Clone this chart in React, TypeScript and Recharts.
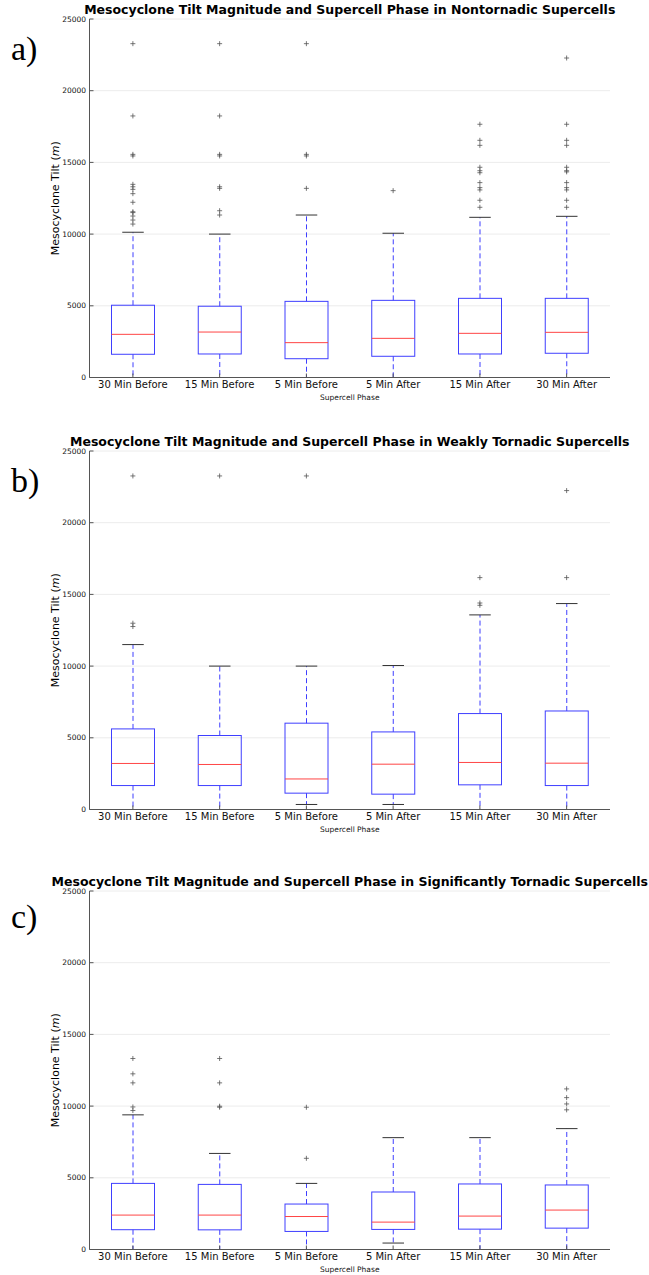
import React from 'react';
import { ComposedChart, Bar, Line, XAxis, YAxis, CartesianGrid } from 'recharts';

const phases = ['30 Min Before', '15 Min Before', '5 Min Before', '5 Min After', '15 Min After', '30 Min After'];
const yTicks = [0, 5000, 10000, 15000, 20000, 25000];

// a) Nontornadic
const lowA = [0, 0, 0, 0, 0, 0];
const q1A = [1620, 1640, 1310, 1480, 1640, 1690];
const medA = [3010, 3170, 2430, 2730, 3080, 3150];
const q3A = [5040, 4970, 5310, 5380, 5520, 5520];
const highA = [10130, 10000, 11330, 10060, 11170, 11240];
const outliersA = [
  [23280, 18240, 15560, 15450, 13470, 13300, 13120, 12820, 12220, 11560, 11500, 11260, 10980, 10700],
  [23280, 18240, 15560, 15450, 13300, 13190, 11630, 11330],
  [23280, 15560, 15450, 13190],
  [13030],
  [17660, 16540, 16190, 14660, 14420, 14280, 13590, 13240, 13080, 12360, 11870],
  [22280, 17660, 16540, 16190, 14660, 14420, 14340, 13590, 13240, 13080, 12360, 11870],
];

// b) Weakly tornadic
const lowB = [0, 0, 350, 350, 0, 0];
const q1B = [1670, 1670, 1140, 1070, 1720, 1670];
const medB = [3210, 3140, 2130, 3160, 3280, 3230];
const q3B = [5620, 5160, 6020, 5410, 6690, 6870];
const highB = [11500, 10000, 10000, 10040, 13570, 14360];
const outliersB = [
  [23260, 12990, 12760],
  [23260],
  [23260],
  [],
  [16170, 14400, 14240],
  [22240, 16170],
];

// c) Significantly tornadic
const lowC = [0, 0, 0, 450, 0, 0];
const q1C = [1380, 1370, 1260, 1400, 1420, 1490];
const medC = [2400, 2400, 2300, 1910, 2330, 2750];
const q3C = [4610, 4540, 3170, 4010, 4570, 4500];
const highC = [9390, 6700, 4610, 7800, 7800, 8430];
const outliersC = [
  [13320, 12250, 11620, 9940, 9690],
  [13320, 11620, 9990, 9920],
  [9920, 6360],
  [],
  [],
  [11200, 10590, 10150, 9740],
];

const titles = [
  'Mesocyclone Tilt Magnitude and Supercell Phase in Nontornadic Supercells',
  'Mesocyclone Tilt Magnitude and Supercell Phase in Weakly Tornadic Supercells',
  'Mesocyclone Tilt Magnitude and Supercell Phase in Significantly Tornadic Supercells',
];
const panelLabels = ['a)', 'b)', 'c)'];

function buildRows(low: number[], q1: number[], med: number[], q3: number[], high: number[], outliers: number[][]) {
  return phases.map((phase, i) => {
    const row: any = { phase, low: low[i], q1: q1[i], med: med[i], q3: q3[i], high: high[i] };
    outliers[i].forEach((v, j) => {
      row['o' + j] = v;
    });
    return row;
  });
}

const panels = [
  { rows: buildRows(lowA, q1A, medA, q3A, highA, outliersA), nOut: Math.max(...outliersA.map((o) => o.length)) },
  { rows: buildRows(lowB, q1B, medB, q3B, highB, outliersB), nOut: Math.max(...outliersB.map((o) => o.length)) },
  { rows: buildRows(lowC, q1C, medC, q3C, highC, outliersC), nOut: Math.max(...outliersC.map((o) => o.length)) },
];

const panelTops = [0, 431.7, 871.7];
const CHART_H = 403;
const MARGIN = { top: 19, right: 39, bottom: 0.5, left: 49.5 };
const BLUE = '#3f3fff';
const RED = '#ff4545';
const AXIS = '#555';

const BoxShape = (props: any) => {
  const { x, y, width, height, payload } = props;
  if (!payload || height == null) return <g />;
  const { low, q1, med, q3, high } = payload;
  const span = high - low;
  const py = (v: number) => y + (height * (high - v)) / span;
  const cx = x + width / 2;
  const ch = width / 4;
  return (
    <g>
      <line x1={cx} x2={cx} y1={py(q3)} y2={py(high)} stroke={BLUE} strokeWidth={1} strokeDasharray="5 3" />
      <line x1={cx} x2={cx} y1={py(q1)} y2={py(low)} stroke={BLUE} strokeWidth={1} strokeDasharray="5 3" />
      <line x1={cx - ch} x2={cx + ch} y1={py(high)} y2={py(high)} stroke="#333" strokeWidth={1} />
      <line x1={cx - ch} x2={cx + ch} y1={py(low)} y2={py(low)} stroke="#333" strokeWidth={1} />
      <rect x={x} y={py(q3)} width={width} height={py(q1) - py(q3)} fill="none" stroke={BLUE} strokeWidth={1} />
      <line x1={x} x2={x + width} y1={py(med)} y2={py(med)} stroke={RED} strokeWidth={1} />
    </g>
  );
};

const renderPlus = (props: any) => {
  const { cx, cy, value, index, dataKey } = props;
  const k = `${dataKey}-${index}`;
  if (value == null || cy == null || Number.isNaN(cy)) return <g key={k} />;
  return (
    <path
      key={k}
      d={`M${cx - 2.5},${cy}H${cx + 2.5}M${cx},${cy - 2.5}V${cy + 2.5}`}
      stroke="#555"
      strokeWidth={0.8}
      fill="none"
    />
  );
};

const YLabel = (props: any) => {
  const vb = props.viewBox || { x: 49.5, y: 19, width: 40, height: 358.5 };
  const x = vb.x + 5.5;
  const y = vb.y + vb.height / 2;
  return (
    <text
      x={x}
      y={y}
      transform={`rotate(-90 ${x} ${y})`}
      textAnchor="middle"
      dominantBaseline="central"
      fontSize={11}
      fontFamily="DejaVu Sans"
      fill="#000"
    >
      Mesocyclone Tilt (<tspan fontStyle="italic">m</tspan>)
    </text>
  );
};

function Panel({ idx }: { idx: number }) {
  const { rows, nOut } = panels[idx];
  const top = panelTops[idx];
  const outKeys = Array.from({ length: nOut }, (_, j) => 'o' + j);
  return (
    <div style={{ position: 'absolute', left: 0, top, width: 649, height: CHART_H }}>
      <ComposedChart width={649} height={CHART_H} data={rows} margin={MARGIN}>
        <CartesianGrid horizontal vertical={false} stroke="#ececec" strokeWidth={1} />
        <XAxis
          dataKey="phase"
          interval={0}
          height={25}
          tickSize={-4}
          tickMargin={7}
          axisLine={{ stroke: AXIS }}
          tickLine={{ stroke: AXIS }}
          tick={{ fontSize: 10, fill: '#111', fontFamily: 'DejaVu Sans' }}
          label={{ value: 'Supercell Phase', position: 'insideBottom', offset: 2.5, fontSize: 7.5, fill: '#111', fontFamily: 'DejaVu Sans' }}
        />
        <XAxis
          xAxisId="top"
          dataKey="phase"
          orientation="top"
          mirror
          height={0}
          tick={false}
          tickSize={4}
          axisLine={{ stroke: AXIS }}
          tickLine={{ stroke: AXIS }}
        />
        <YAxis
          domain={[0, 25000]}
          ticks={yTicks}
          interval={0}
          width={40}
          tickSize={-4}
          tickMargin={7.5}
          axisLine={{ stroke: AXIS }}
          tickLine={{ stroke: AXIS }}
          tick={{ fontSize: 7.5, fill: '#111', fontFamily: 'DejaVu Sans' }}
          label={{ content: (p: any) => <YLabel {...p} /> }}
        />
        <YAxis
          yAxisId="right"
          orientation="right"
          mirror
          domain={[0, 25000]}
          ticks={yTicks}
          interval={0}
          width={0}
          tick={false}
          tickSize={4}
          axisLine={{ stroke: AXIS }}
          tickLine={{ stroke: AXIS }}
        />
        <Bar
          dataKey={(d: any) => [d.low, d.high]}
          barSize={43}
          shape={(p: any) => <BoxShape {...p} />}
          isAnimationActive={false}
          legendType="none"
        />
        {outKeys.map((k) => (
          <Line
            key={k}
            dataKey={k}
            stroke="none"
            dot={renderPlus}
            activeDot={false}
            isAnimationActive={false}
            legendType="none"
            connectNulls={false}
          />
        ))}
      </ComposedChart>
      <div
        style={{
          position: 'absolute',
          left: -0.25,
          width: 700,
          top: 4,
          textAlign: 'center',
          whiteSpace: 'nowrap',
          fontFamily: 'DejaVu Sans',
          fontWeight: 'bold',
          fontSize: 12.5,
          lineHeight: '12.5px',
          color: '#000',
        }}
      >
        {titles[idx]}
      </div>
      <div
        style={{
          position: 'absolute',
          left: 11,
          top: idx === 2 ? 28 : 32,
          fontFamily: 'Liberation Serif',
          fontSize: 34,
          lineHeight: '34px',
          color: '#000',
        }}
      >
        {panelLabels[idx]}
      </div>
    </div>
  );
}

export default function App() {
  return (
    <div
      style={{
        position: 'absolute',
        left: 0,
        top: 0,
        width: 649,
        height: 1275,
        overflow: 'hidden',
        background: '#fff',
      }}
    >
      {[0, 1, 2].map((i) => (
        <Panel key={i} idx={i} />
      ))}
    </div>
  );
}
